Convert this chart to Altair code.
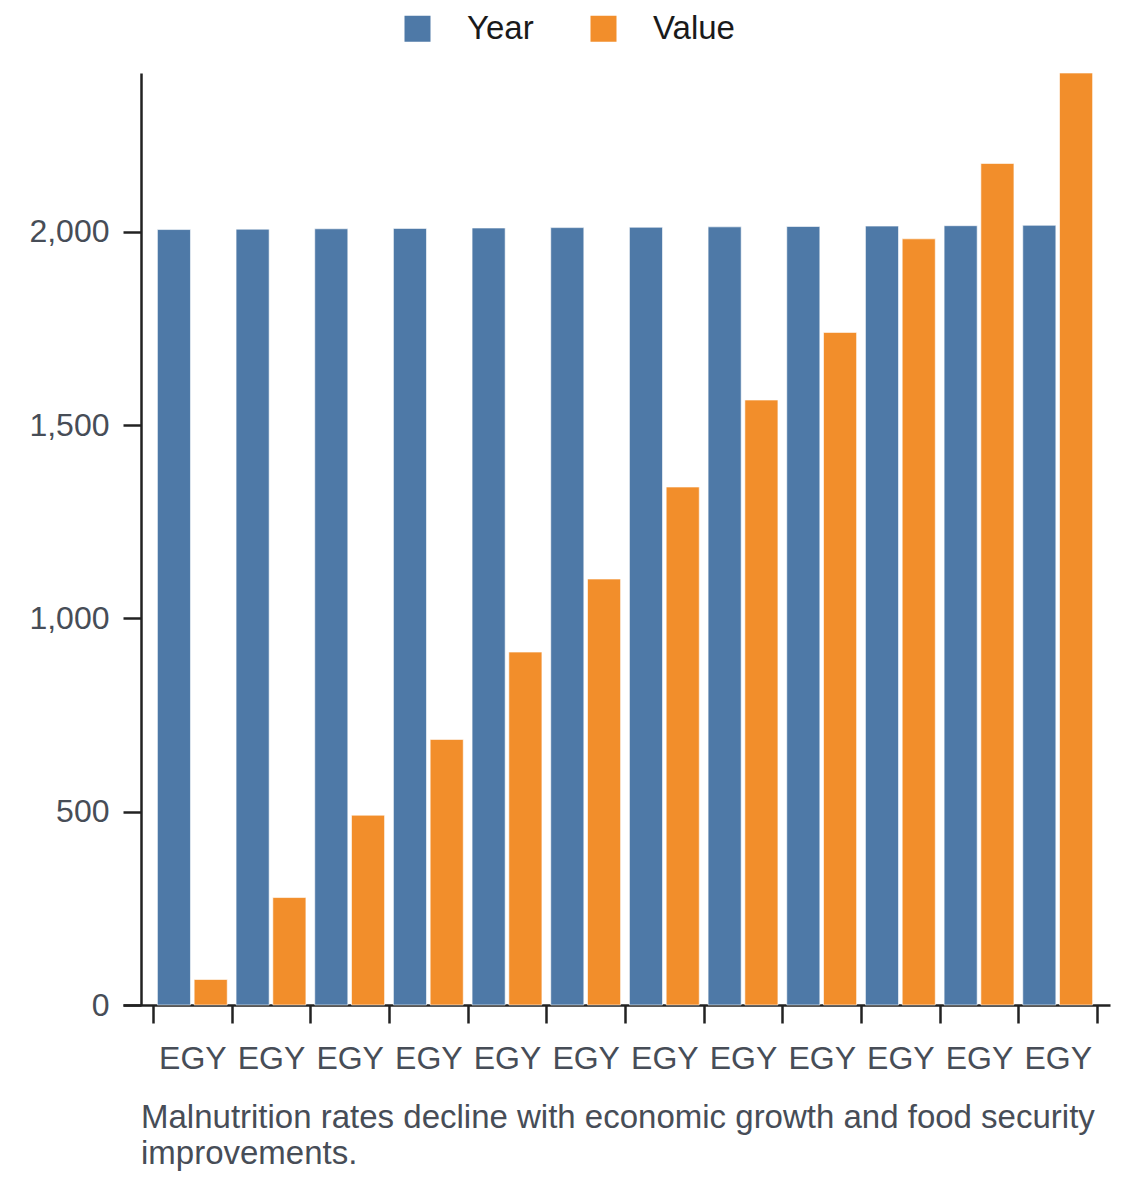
import json
import pandas as pd
import altair as alt

countries = ["EGY", "EGY", "EGY", "EGY", "EGY", "EGY",
             "EGY", "EGY", "EGY", "EGY", "EGY", "EGY"]
years = [2006, 2007, 2008, 2009, 2010, 2011, 2012, 2013, 2014, 2015, 2016, 2017]
values = [66, 278, 491, 687, 913, 1102, 1340, 1565, 1740, 1982, 2177, 2411]
series = ["Year", "Value"]
colors = ["#4e79a7", "#f28e2b"]
y_ticks = [0, 500, 1000, 1500, 2000]
caption = ["Malnutrition rates decline with economic growth and food security",
           "improvements."]

FONT = "Liberation Sans, Arial, sans-serif"
INK = "#474d57"
AXIS = "#222222"

rows = []
for i, (c, yr, v) in enumerate(zip(countries, years, values)):
    rows.append({"slot": i, "country": c, "series": "Year", "amount": yr})
    rows.append({"slot": i, "country": c, "series": "Value", "amount": v})
df = pd.DataFrame(rows)

# several bars share the same label, so the axis runs on the slot index
label_expr = json.dumps(countries) + "[datum.value]"

bars = alt.Chart(df).mark_bar(stroke="white", strokeWidth=1, strokeOpacity=0.6).encode(
    x=alt.X(
        "slot:O",
        title=None,
        scale=alt.Scale(paddingInner=0, paddingOuter=0.273, align=0.698),
        axis=alt.Axis(labelExpr=label_expr, labelAngle=0, tickBand="extent",
                      labelPadding=20),
    ),
    xOffset=alt.XOffset(
        "series:N",
        sort=series,
        scale=alt.Scale(domain=series, paddingInner=0.1, paddingOuter=0.12),
    ),
    y=alt.Y(
        "amount:Q",
        title=None,
        scale=alt.Scale(domain=[0, max(values)], nice=False),
        axis=alt.Axis(values=y_ticks, format=",d", offset=-18, labelPadding=14),
    ),
    color=alt.Color(
        "series:N",
        sort=series,
        scale=alt.Scale(domain=series, range=colors),
        legend=alt.Legend(
            title=None,
            orient="none",
            legendX=278,
            legendY=-61,
            direction="horizontal",
            symbolType="square",
            symbolSize=676,
            symbolStrokeWidth=0,
            symbolOpacity=1,
            labelFont=FONT,
            labelFontSize=33,
            labelColor="#1a1a1a",
            labelOffset=33,
            columnPadding=53,
        ),
    ),
    tooltip=["country", "series", "amount"],
)

chart = bars.properties(
    width=987,
    height=932,
    autosize="none",
    padding={"left": 115, "top": 65, "right": 12, "bottom": 169},
    title=alt.TitleParams(
        text=caption,
        orient="bottom",
        anchor="start",
        frame="group",
        dx=18,
        offset=28,
        font=FONT,
        fontSize=33,
        fontWeight="normal",
        color=INK,
        lineHeight=36,
    ),
).configure_view(
    stroke=None
).configure_axis(
    grid=False,
    domainColor=AXIS,
    domainWidth=2.5,
    tickColor=AXIS,
    tickWidth=2.5,
    tickSize=18,
    labelFont=FONT,
    labelFontSize=32,
    labelColor=INK,
)

chart.save("out.html", embed_options={"renderer": "svg", "actions": False})
